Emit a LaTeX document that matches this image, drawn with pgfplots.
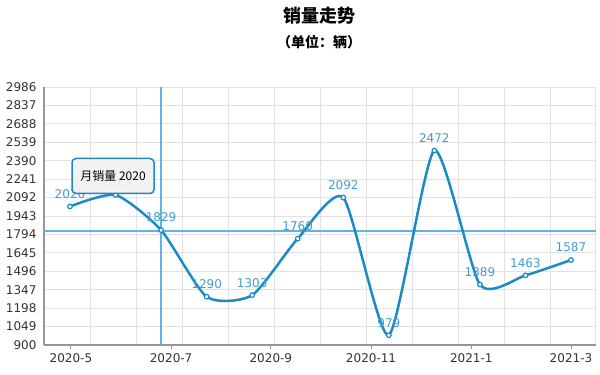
\documentclass[border=0pt]{standalone}
\usepackage{fontspec}
\setmainfont{DejaVu Sans}
\newfontfamily\cjk{Noto Sans CJK SC}
\usepackage{pgfplots}
\pgfplotsset{compat=1.18}
\usetikzlibrary{shadows}

\definecolor{lineblue}{RGB}{27,139,200}
\definecolor{lblblue}{RGB}{64,156,210}
\definecolor{crossblue}{RGB}{95,178,226}
\definecolor{tipblue}{RGB}{35,135,195}
\definecolor{gridgray}{RGB}{226,226,226}
\definecolor{axisgray}{RGB}{150,150,150}
\definecolor{txt}{RGB}{51,51,51}

\begin{document}
\begin{tikzpicture}[x=1pt,y=1pt]
\path[use as bounding box] (0,0) rectangle (600,375);
\begin{axis}[
  at={(44pt,30pt)}, anchor=south west,
  scale only axis, width=552pt, height=258pt,
  xmin=-0.571, xmax=11.549, ymin=900, ymax=2986,
  ytick={900,1049,1198,1347,1496,1645,1794,1943,2092,2241,2390,2539,2688,2837,2986},
  xtick={0.02,2.22,4.41,6.61,8.81,11.0},
  xticklabels={2020-5,2020-7,2020-9,2020-11,2021-1,2021-3},
  minor xtick={0.439,1.449,2.459,3.469,4.479,5.489,6.499,7.509,8.519,9.529,10.539,11.54},
  xmajorgrids=false, xminorgrids=true, ymajorgrids=true,
  grid style={gridgray, line width=0.8pt},
  minor grid style={gridgray, line width=0.8pt},
  axis lines=left,
  axis line style={-, axisgray, line width=1.5pt},
  tick align=outside,
  major tick length=4pt, minor tick length=0pt,
  xtick style={axisgray, line width=1pt},
  ytick style={draw=none},
  ticklabel style={font=\fontsize{12}{12}\selectfont, color=txt},
  xticklabel style={yshift=-1pt},
  /pgf/number format/assume math mode=true,
  /pgf/number format/1000 sep={},
  clip=false,
]
\addplot[color=crossblue, solid, line width=1.3pt, mark=none, forget plot] coordinates {(2,900) (2,2986)};
\addplot[color=crossblue, solid, line width=1.3pt, mark=none, forget plot] coordinates {(-0.571,1822) (11.549,1822)};
\addplot[lineblue, line width=2.5pt, smooth, tension=0.38,
  mark=*, mark size=2.3pt,
  mark options={fill=white, draw=lineblue, line width=1.2pt},
  nodes near coords,
  every node near coord/.append style={font=\fontsize{12}{12}\selectfont, color=lblblue, anchor=south, yshift=4pt}
] coordinates {
  (0,2020) (1,2113) (2,1829) (3,1290) (4,1303) (5,1760)
  (6,2092) (7,979) (8,2472) (9,1389) (10,1463) (11,1587)
};
\end{axis}
\node[draw=tipblue, line width=1.5pt, fill=white!92!gray, fill opacity=0.88, text opacity=1,
  rounded corners=4pt, minimum width=82pt, minimum height=35pt,
  drop shadow={opacity=0.2, shadow xshift=1pt, shadow yshift=-1pt},
  font=\cjk\fontsize{12}{12}\selectfont, text=black] at (113,199) {月销量 2020};
\node[font=\cjk\bfseries\fontsize{18}{18}\selectfont, text=black] at (319,359) {销量走势};
\node[font=\cjk\bfseries\fontsize{14}{14}\selectfont, text=black] at (319,333) {（单位：辆）};
\end{tikzpicture}
\end{document}
